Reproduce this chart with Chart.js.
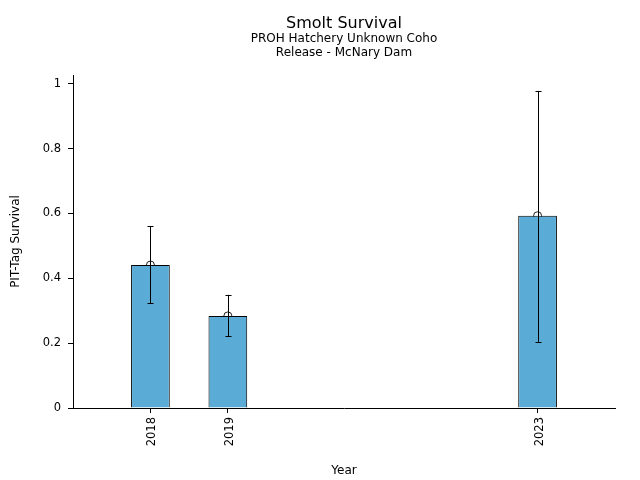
<!DOCTYPE html>
<html>
<head>
<meta charset="utf-8">
<script src="https://cdn.jsdelivr.net/npm/chart.js@4"></script>
<style>
  html, body { margin: 0; padding: 0; background: #fff; }
  #wrap { width: 640px; height: 480px; }
</style>
</head>
<body>
<div id="wrap"><canvas id="survivalChart" width="640" height="480"></canvas></div>
<script>
// datos
const years = [2018, 2019, 2023];
const survival = [0.441, 0.284, 0.593];
const lowerCI = [0.323, 0.222, 0.204];
const upperCI = [0.561, 0.349, 0.978];
const yTicks = [0, 0.2, 0.4, 0.6, 0.8, 1];
const titleLines = ["Smolt Survival", "PROH Hatchery Unknown Coho", "Release - McNary Dam"];

const fuente = "'DejaVu Sans', sans-serif";

// barras de error sobre las barras
const errorBars = {
    id: "errorBars",
    afterDatasetDraw(chart, args) {
        if (args.index !== 0) return;
        const ctx = chart.ctx;
        const x = chart.scales.x, y = chart.scales.y;
        ctx.save();
        ctx.strokeStyle = "#000";
        ctx.lineWidth = 1;
        for (let i = 0; i < years.length; i++) {
            const px = Math.round(x.getPixelForValue(years[i])) + 0.5;
            const lo = y.getPixelForValue(lowerCI[i]);
            const hi = y.getPixelForValue(upperCI[i]);
            ctx.beginPath();
            ctx.moveTo(px, lo);
            ctx.lineTo(px, hi);
            ctx.moveTo(px - 3, Math.round(lo) + 0.5);
            ctx.lineTo(px + 3, Math.round(lo) + 0.5);
            ctx.moveTo(px - 3, Math.round(hi) + 0.5);
            ctx.lineTo(px + 3, Math.round(hi) + 0.5);
            ctx.stroke();
        }
        ctx.restore();
    }
};

// titulos centrados sobre el area del grafico
const titulos = {
    id: "titulos",
    afterDraw(chart) {
        const ctx = chart.ctx;
        const cx = (chart.chartArea.left + chart.chartArea.right) / 2;
        ctx.save();
        ctx.fillStyle = "#000";
        ctx.textAlign = "center";
        ctx.textBaseline = "middle";
        ctx.font = "16px " + fuente;
        ctx.fillText(titleLines[0], cx, 23.5);
        ctx.font = "12px " + fuente;
        ctx.fillText(titleLines[1], cx, 39);
        ctx.fillText(titleLines[2], cx, 53);
        ctx.restore();
    }
};

function dibujarGrafica() {
    const ctx = document.getElementById("survivalChart").getContext("2d");
    new Chart(ctx, {
        type: "bar",
        data: {
            datasets: [{
                type: "bar",
                data: years.map((yr, i) => ({ x: yr, y: survival[i] })),
                backgroundColor: "#5aacd6",
                borderColor: "#000",
                borderWidth: 1,
                categoryPercentage: 1.0,
                barPercentage: 0.5
            }, {
                type: "scatter",
                data: years.map((yr, i) => ({ x: yr, y: survival[i] })),
                pointStyle: "circle",
                pointRadius: 4,
                pointBorderWidth: 1,
                pointBorderColor: "#222",
                pointBackgroundColor: "rgba(0,0,0,0)"
            }]
        },
        options: {
            responsive: false,
            animation: false,
            layout: { padding: { top: 75, right: 25, left: 0, bottom: 0 } },
            plugins: {
                legend: { display: false },
                tooltip: { enabled: false },
                title: { display: false }
            },
            scales: {
                x: {
                    type: "linear",
                    min: 2017,
                    max: 2024,
                    offset: false,
                    afterBuildTicks: (scale) => { scale.ticks = years.map(v => ({ value: v })); },
                    afterFit: (scale) => { scale.height = 72; },
                    ticks: {
                        color: "#000",
                        font: { family: fuente, size: 11.5 },
                        minRotation: 90,
                        maxRotation: 90,
                        padding: 4,
                        labelOffset: 2,
                        callback: (v) => String(v)
                    },
                    grid: { drawOnChartArea: false, drawTicks: true, tickLength: 5, tickWidth: 1, tickColor: "#000", offset: false },
                    border: { display: true, color: "#000", width: 1 },
                    title: {
                        display: true,
                        text: "Year",
                        color: "#000",
                        font: { family: fuente, size: 12 },
                        padding: { top: 0, bottom: 2 }
                    }
                },
                y: {
                    min: 0,
                    max: 1.027,
                    afterBuildTicks: (scale) => { scale.ticks = yTicks.map(v => ({ value: v })); },
                    afterFit: (scale) => { scale.width = 73; },
                    ticks: {
                        color: "#000",
                        font: { family: fuente, size: 11.5 },
                        padding: 7,
                        callback: (v) => String(v)
                    },
                    grid: { drawOnChartArea: false, drawTicks: true, tickLength: 5, tickWidth: 1, tickColor: "#000" },
                    border: { display: true, color: "#000", width: 1 },
                    title: {
                        display: true,
                        text: "PIT-Tag Survival",
                        color: "#000",
                        font: { family: fuente, size: 12 },
                        padding: { top: 9, bottom: 0 }
                    }
                }
            }
        },
        plugins: [errorBars, titulos]
    });
}

dibujarGrafica();
</script>
</body>
</html>
